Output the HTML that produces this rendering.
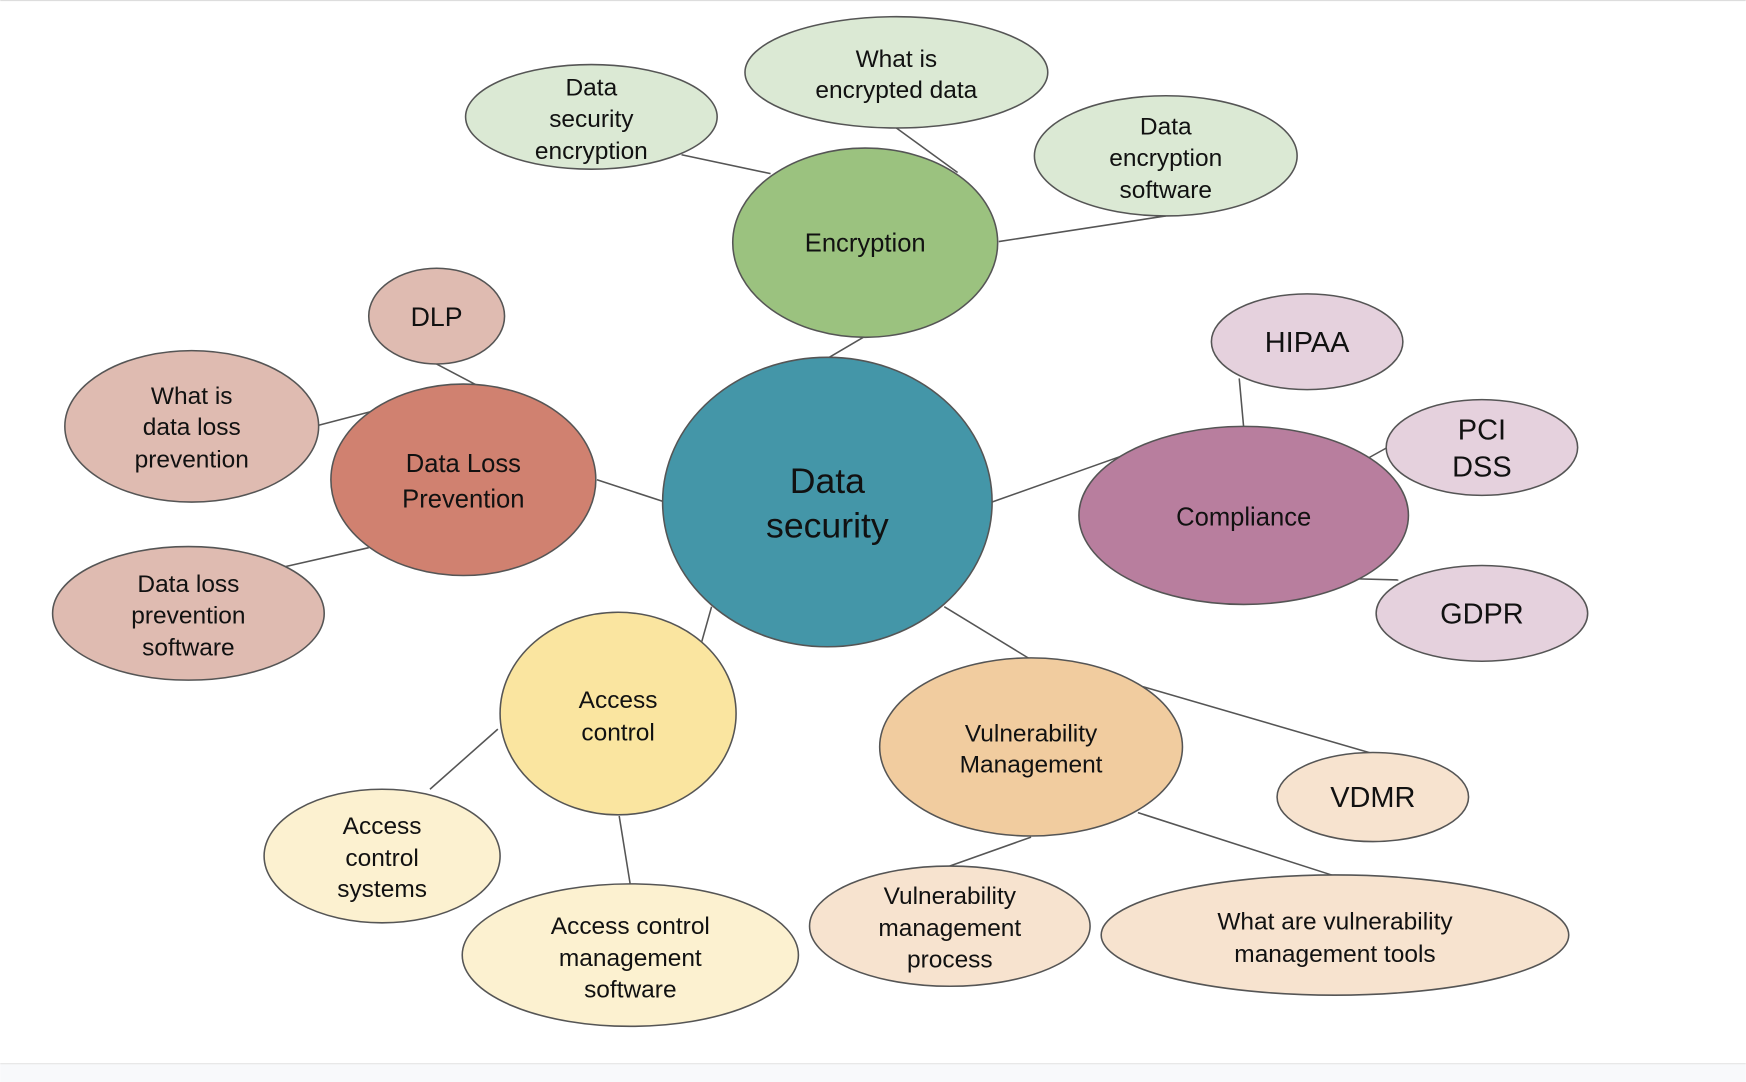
<!DOCTYPE html>
<html><head><meta charset="utf-8"><style>
html,body{margin:0;padding:0;background:#fff;}
svg{display:block;}
text{font-family:"Liberation Sans",Arial,sans-serif;fill:#111;text-anchor:middle;}
</style></head><body>
<svg width="1746" height="1082" viewBox="0 0 1568 972" xmlns="http://www.w3.org/2000/svg">
<rect x="0" y="0" width="1568" height="972" fill="#fff"/>
<line x1="0" y1="0.5" x2="1568" y2="0.5" stroke="#ddd" stroke-width="1"/>
<rect x="0" y="955.5" width="1568" height="17" fill="#f8f9fb"/>
<line x1="0" y1="955.5" x2="1568" y2="955.5" stroke="#e4e4e4" stroke-width="1"/>
<g stroke="#555" stroke-width="1.4">
<line x1="743" y1="322" x2="777" y2="302"/>
<line x1="612" y1="139" x2="692" y2="156"/>
<line x1="805" y1="115" x2="860" y2="155"/>
<line x1="897" y1="217" x2="1047" y2="194"/>
<line x1="392" y1="327" x2="428" y2="346"/>
<line x1="286" y1="382" x2="332" y2="370"/>
<line x1="256" y1="509" x2="331" y2="492"/>
<line x1="536" y1="431" x2="597" y2="451"/>
<line x1="891" y1="451" x2="1012" y2="408"/>
<line x1="1113" y1="340" x2="1117" y2="384"/>
<line x1="1228" y1="412" x2="1246" y2="402"/>
<line x1="1220" y1="520" x2="1256" y2="521"/>
<line x1="630" y1="577" x2="639" y2="545"/>
<line x1="447" y1="655" x2="386" y2="709"/>
<line x1="556" y1="733" x2="566" y2="795"/>
<line x1="848" y1="545" x2="925" y2="592"/>
<line x1="1020" y1="615" x2="1233" y2="677"/>
<line x1="926" y1="752" x2="853" y2="778"/>
<line x1="1022" y1="730" x2="1199" y2="787"/>
</g>
<g stroke="#555" stroke-width="1.4">
<ellipse cx="777" cy="218" rx="119" ry="85" fill="#9bc27f"/>
<ellipse cx="531" cy="105" rx="113" ry="47" fill="#dbe9d4"/>
<ellipse cx="805" cy="65" rx="136" ry="50" fill="#dbe9d4"/>
<ellipse cx="1047" cy="140" rx="118" ry="54" fill="#dbe9d4"/>
<ellipse cx="392" cy="284" rx="61" ry="43" fill="#dfbbb1"/>
<ellipse cx="416" cy="431" rx="119" ry="86" fill="#d08170"/>
<ellipse cx="172" cy="383" rx="114" ry="68" fill="#dfbbb1"/>
<ellipse cx="169" cy="551" rx="122" ry="60" fill="#dfbbb1"/>
<ellipse cx="743" cy="451" rx="148" ry="130" fill="#4496a8"/>
<ellipse cx="1117" cy="463" rx="148" ry="80" fill="#b87e9e"/>
<ellipse cx="1174" cy="307" rx="86" ry="43" fill="#e5d1dd"/>
<ellipse cx="1331" cy="402" rx="86" ry="43" fill="#e5d1dd"/>
<ellipse cx="1331" cy="551" rx="95" ry="43" fill="#e5d1dd"/>
<ellipse cx="555" cy="641" rx="106" ry="91" fill="#fae5a0"/>
<ellipse cx="343" cy="769" rx="106" ry="60" fill="#fcf1d0"/>
<ellipse cx="566" cy="858" rx="151" ry="64" fill="#fcf1d0"/>
<ellipse cx="926" cy="671" rx="136" ry="80" fill="#f1cc9f"/>
<ellipse cx="1233" cy="716" rx="86" ry="40" fill="#f7e3cf"/>
<ellipse cx="853" cy="832" rx="126" ry="54" fill="#f7e3cf"/>
<ellipse cx="1199" cy="840" rx="210" ry="54" fill="#f7e3cf"/>
</g>
<g font-size="22">
<text x="777" y="226" font-size="23">Encryption</text>
<text x="531" y="86">Data</text><text x="531" y="114">security</text><text x="531" y="143">encryption</text>
<text x="805" y="60">What is</text><text x="805" y="88">encrypted data</text>
<text x="1047" y="121">Data</text><text x="1047" y="149">encryption</text><text x="1047" y="178">software</text>
<text x="392" y="293" font-size="24">DLP</text>
<text x="416" y="424" font-size="23">Data Loss</text><text x="416" y="456" font-size="23">Prevention</text>
<text x="172" y="363">What is</text><text x="172" y="391">data loss</text><text x="172" y="420">prevention</text>
<text x="169" y="532">Data loss</text><text x="169" y="560">prevention</text><text x="169" y="589">software</text>
<text x="743" y="443" font-size="32">Data</text><text x="743" y="483" font-size="32">security</text>
<text x="1117" y="472" font-size="23">Compliance</text>
<text x="1174" y="316" font-size="26">HIPAA</text>
<text x="1331" y="395" font-size="26">PCI</text><text x="1331" y="428" font-size="26">DSS</text>
<text x="1331" y="560" font-size="26">GDPR</text>
<text x="555" y="636">Access</text><text x="555" y="665">control</text>
<text x="343" y="749">Access</text><text x="343" y="778">control</text><text x="343" y="806">systems</text>
<text x="566" y="839">Access control</text><text x="566" y="868">management</text><text x="566" y="896">software</text>
<text x="926" y="666">Vulnerability</text><text x="926" y="694">Management</text>
<text x="1233" y="725" font-size="26">VDMR</text>
<text x="853" y="812">Vulnerability</text><text x="853" y="841">management</text><text x="853" y="869">process</text>
<text x="1199" y="835">What are vulnerability</text><text x="1199" y="864">management tools</text>
</g>
</svg>
</body></html>
